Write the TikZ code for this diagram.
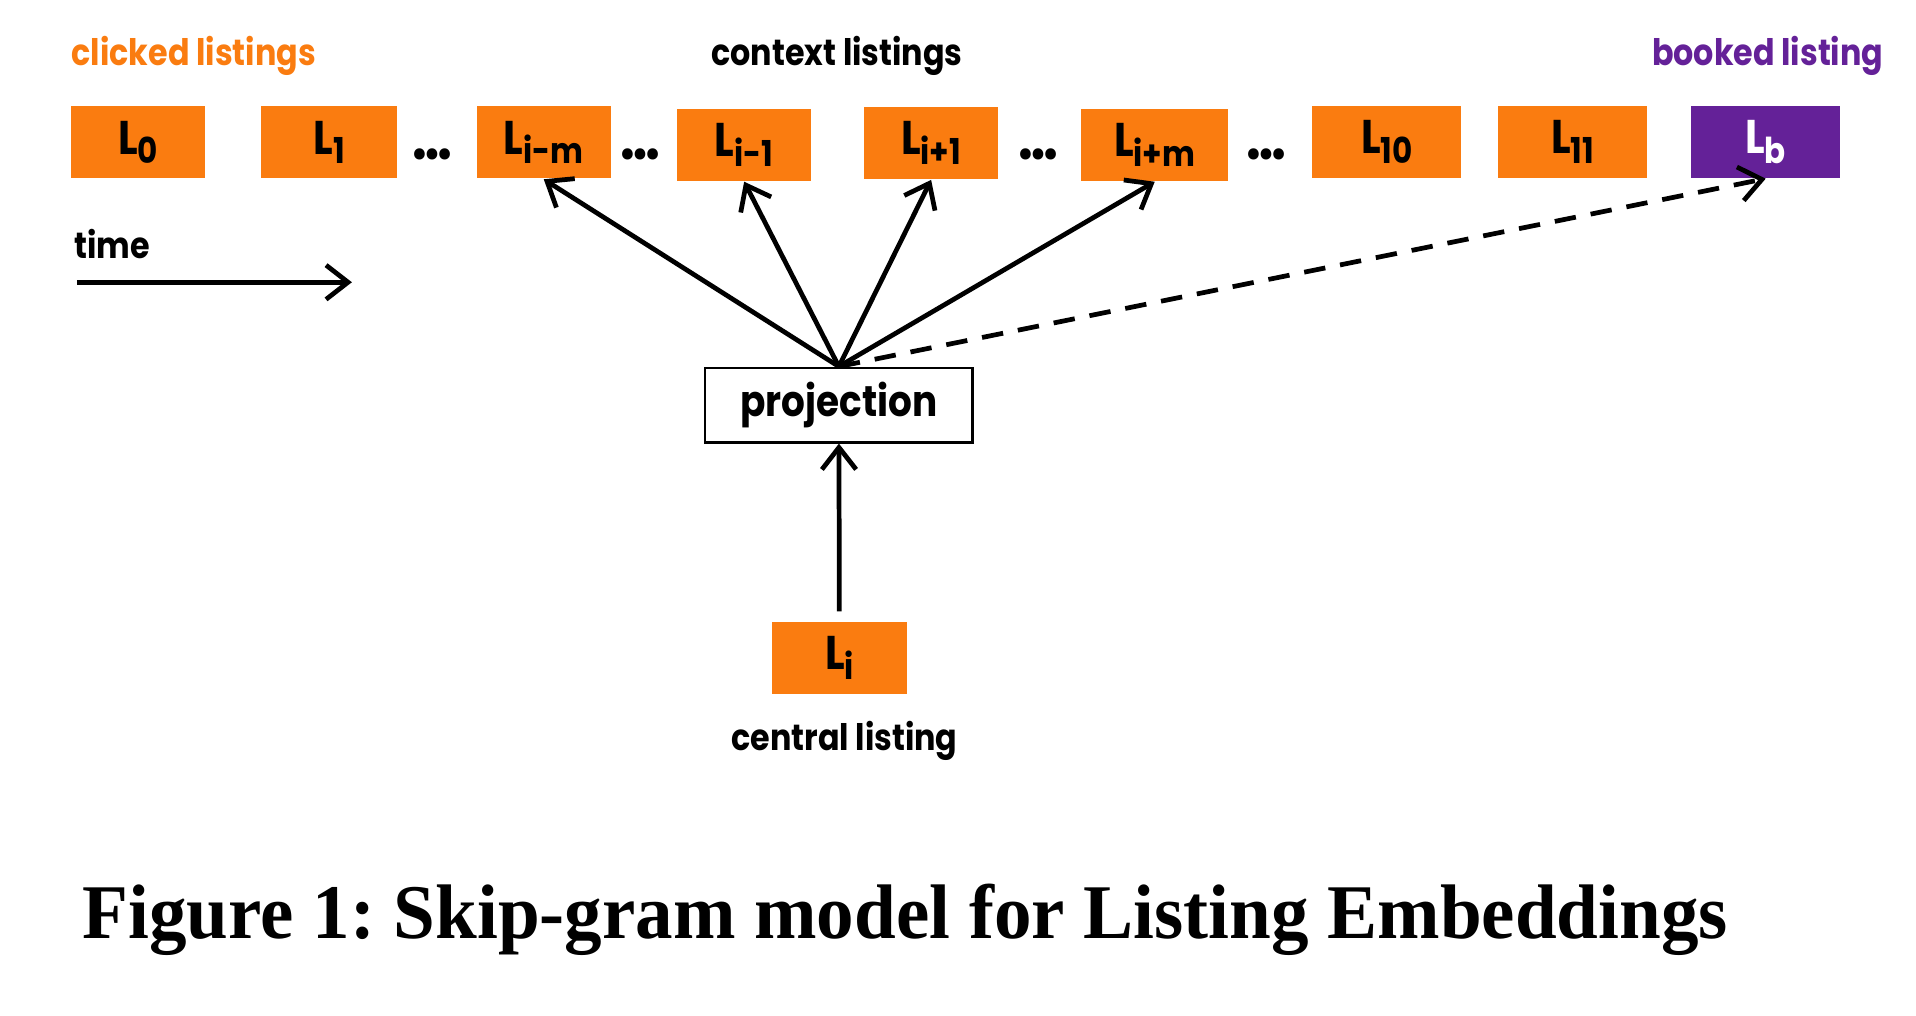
\documentclass[tikz,border=0pt]{standalone}
\usepackage{fontspec}
\usepackage{tikz}
\usetikzlibrary{arrows.meta}
\setmainfont{Liberation Serif}
\newfontfamily\capfont[FakeStretch=0.97]{Liberation Serif}
\newfontfamily\gothic[FakeStretch=0.87]{Poppins}
\definecolor{airorange}{RGB}{250,124,16}
\definecolor{airpurple}{RGB}{100,33,152}
% listing symbol with lowered index
\newcommand{\lsym}[1]{L\raisebox{-0.8mm}{\fontsize{8.3}{8.3}\selectfont #1}}

\begin{document}
\frenchspacing
\begin{tikzpicture}[x=0.01cm, y=-0.01cm,
    every node/.style={font=\gothic\bfseries},
    label text/.style={inner sep=0pt, font=\gothic\bfseries\fontsize{8.5}{8.5}\selectfont},
    listing/.style={fill=airorange, minimum width=1.1cm, minimum height=0.59cm,
                    inner sep=0pt, font=\gothic\bfseries\fontsize{11}{11}\selectfont},
    link/.style={line width=1.1pt, -{Straight Barb[length=1.8mm, width=2.8mm]}}]
    \useasboundingbox (0,0) rectangle (1568,831);

    % sequence of listings
    \node[listing] (l0)  at (113, 116.5)  {\lsym{0}};
    \node[listing, minimum width=1.11cm] (l1) at (269.5, 116.5) {\lsym{1}};
    \node[listing] (lim) at (445, 116.5)  {\lsym{i-m}};
    \node[listing] (lm1) at (609, 118.5)  {\lsym{i-1}};
    \node[listing] (lp1) at (762, 117)    {\lsym{i+1}};
    \node[listing, minimum width=1.2cm]  (lip) at (945, 118.5) {\lsym{i+m}};
    \node[listing, minimum width=1.22cm] (l10) at (1135, 116)  {\lsym{10}};
    \node[listing, minimum width=1.22cm] (l11) at (1287, 116)  {\lsym{11}};
    \node[listing, minimum width=1.22cm, fill=airpurple, text=white] (lb) at (1445, 116) {\lsym{b}};

    \foreach \x/\name in {354/d1, 524/d2, 850/d3, 1036/d4}
        \node[inner sep=0pt, font=\gothic\bfseries\fontsize{14}{14}\selectfont] (\name) at (\x, 126) {\dots};

    % headings
    \node[label text, anchor=west, text=airorange] (clicked) at (58, 46) {clicked listings};
    \node[label text] (context) at (685, 46) {context listings};
    \node[label text, anchor=east, text=airpurple] (booked) at (1542, 46) {booked listing};

    % time direction
    \node[label text, anchor=west] (time) at (60, 200) {time};
    \coordinate (t0) at (63, 231);
    \coordinate (t1) at (288, 231);
    \draw[link] (t0) -- (t1);

    % projection and central listing
    \node[draw, line width=0.6pt, fill=white, minimum width=2.19cm, minimum height=0.57cm,
          font=\gothic\bfseries\fontsize{10}{10}\selectfont] (proj) at (686.5, 331.5) {projection};
    \node[listing] (li) at (687, 538.5) {\lsym{i}};
    \node[label text] (central) at (691, 606) {central listing};

    \draw[link, shorten <=0.08cm] (li) -- (proj);
    \foreach \t in {lim, lm1, lp1, lip}
        \draw[link] (proj.north) -- (\t.south);
    \draw[link, dash pattern=on 5pt off 3.5pt] (proj.north) -- (lb.south);

    % caption
    \node[anchor=base west, inner sep=0pt, font=\capfont\bfseries\fontsize{18}{18}\selectfont] (caption) at (67, 768)
        {Figure 1: Skip-gram model for Listing Embeddings};
\end{tikzpicture}
\end{document}
